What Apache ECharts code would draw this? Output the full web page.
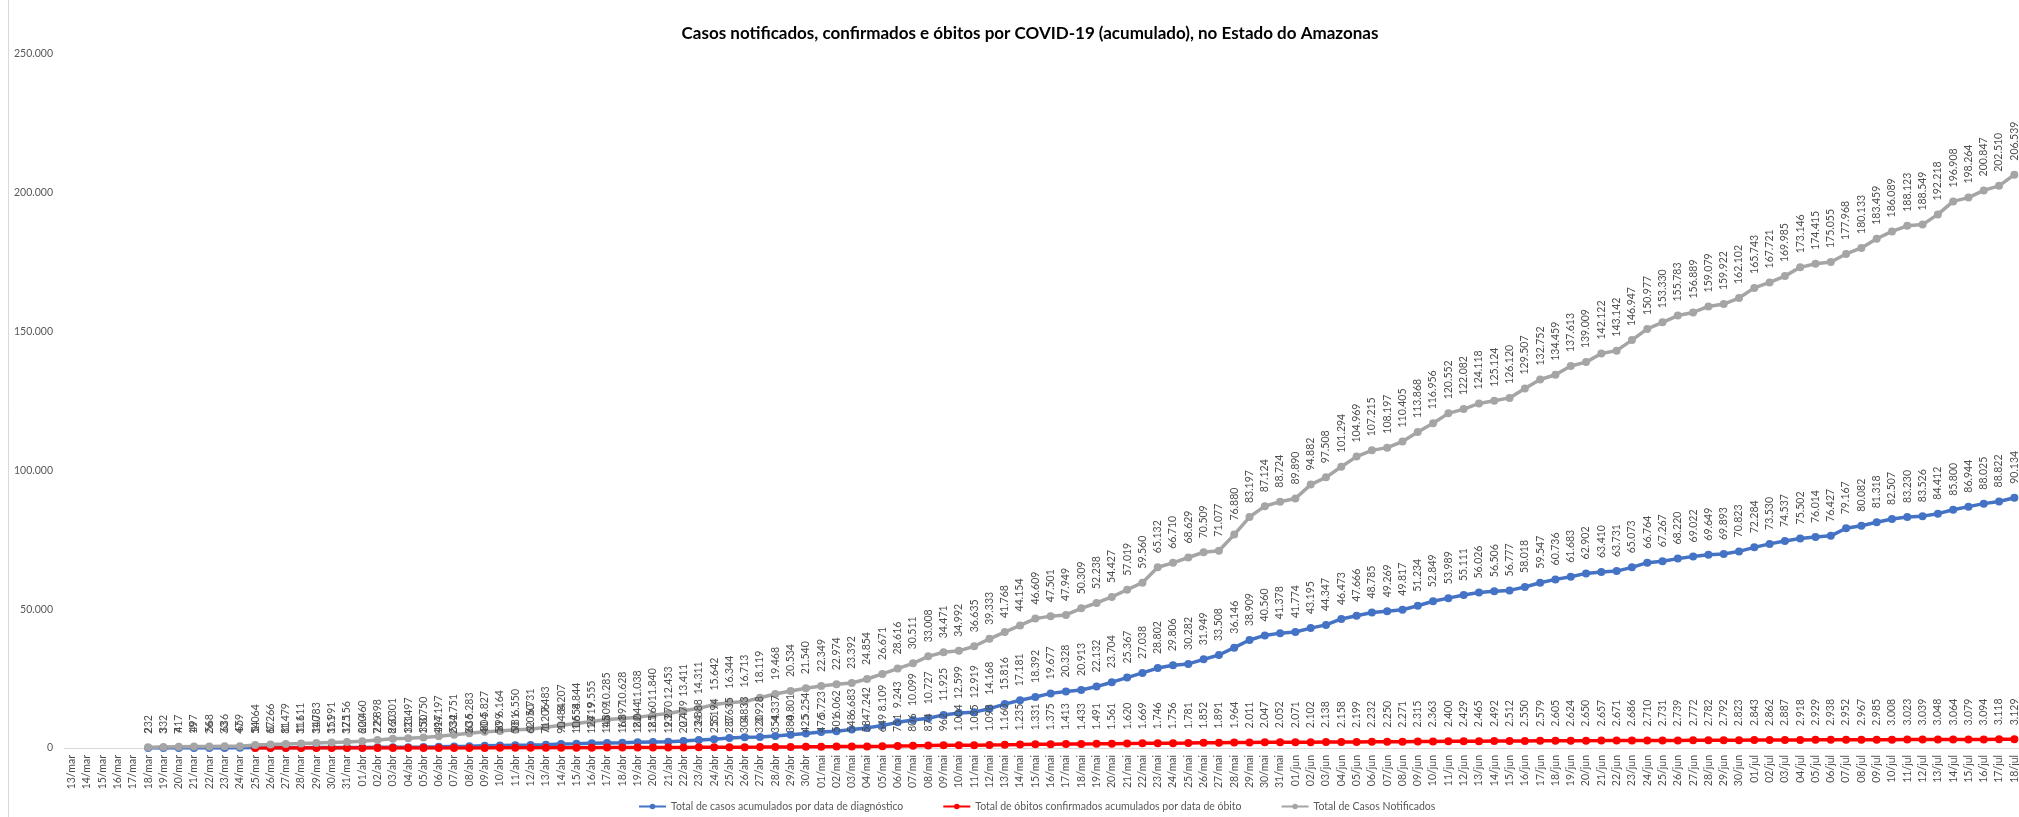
<!DOCTYPE html>
<html>
<head>
<meta charset="utf-8">
<script src="https://cdn.jsdelivr.net/npm/echarts@6/dist/echarts.min.js"></script>
<style>
html,body{margin:0;padding:0;background:#fff;}
#chart{width:2019px;height:817px;}
</style>
</head>
<body>
<div id="chart"></div>
<script>
const dates = [
'13/mar','14/mar','15/mar','16/mar','17/mar','18/mar','19/mar','20/mar','21/mar','22/mar','23/mar','24/mar','25/mar','26/mar','27/mar','28/mar','29/mar','30/mar','31/mar',
'01/abr','02/abr','03/abr','04/abr','05/abr','06/abr','07/abr','08/abr','09/abr','10/abr','11/abr','12/abr','13/abr','14/abr','15/abr','16/abr','17/abr','18/abr','19/abr','20/abr','21/abr','22/abr','23/abr','24/abr','25/abr','26/abr','27/abr','28/abr','29/abr','30/abr',
'01/mai','02/mai','03/mai','04/mai','05/mai','06/mai','07/mai','08/mai','09/mai','10/mai','11/mai','12/mai','13/mai','14/mai','15/mai','16/mai','17/mai','18/mai','19/mai','20/mai','21/mai','22/mai','23/mai','24/mai','25/mai','26/mai','27/mai','28/mai','29/mai','30/mai','31/mai',
'01/jun','02/jun','03/jun','04/jun','05/jun','06/jun','07/jun','08/jun','09/jun','10/jun','11/jun','12/jun','13/jun','14/jun','15/jun','16/jun','17/jun','18/jun','19/jun','20/jun','21/jun','22/jun','23/jun','24/jun','25/jun','26/jun','27/jun','28/jun','29/jun','30/jun',
'01/jul','02/jul','03/jul','04/jul','05/jul','06/jul','07/jul','08/jul','09/jul','10/jul','11/jul','12/jul','13/jul','14/jul','15/jul','16/jul','17/jul','18/jul'
];

const casosDiagnostico = [
null,null,null,null,null,2,3,7,19,26,33,47,54,67,81,111,140,151,175,
200,229,260,311,350,417,532,636,804,899,981,1050,1206,1484,1554,1719,1809,1897,2044,2160,2270,2479,2888,3194,3635,3833,3928,4337,4801,5254,
5723,6062,6683,7242,8109,9243,10099,10727,11925,12599,12919,14168,15816,17181,18392,19677,20328,20913,22132,23704,25367,27038,28802,29806,30282,31949,33508,36146,38909,40560,41378,
41774,43195,44347,46473,47666,48785,49269,49817,51234,52849,53989,55111,56026,56506,56777,58018,59547,60736,61683,62902,63410,63731,65073,66764,67267,68220,69022,69649,69893,70823,
72284,73530,74537,75502,76014,76427,79167,80082,81318,82507,83230,83526,84412,85800,86944,88025,88822,90134
];

const obitos = [
null,null,null,null,null,null,null,null,null,null,null,null,1,1,1,3,3,3,3,
6,7,8,12,15,19,23,30,40,50,53,62,71,90,106,124,145,161,182,185,193,207,234,255,287,304,320,354,380,425,
476,501,548,584,649,751,806,874,962,1004,1035,1098,1160,1235,1331,1375,1413,1433,1491,1561,1620,1669,1746,1756,1781,1852,1891,1964,2011,2047,2052,
2071,2102,2138,2158,2199,2232,2250,2271,2315,2363,2400,2429,2465,2492,2512,2550,2579,2605,2624,2650,2657,2671,2686,2710,2731,2739,2772,2782,2792,2823,
2843,2862,2887,2918,2929,2938,2952,2967,2985,3008,3023,3039,3048,3064,3079,3094,3118,3129
];

const casosNotificados = [
null,null,null,null,null,232,332,417,497,568,636,659,1064,1266,1479,1611,1783,1991,2156,
2460,2898,3301,3497,3750,4197,4751,5283,5827,6164,6550,6731,7483,8207,8844,9555,10285,10628,11038,11840,12453,13411,14311,15642,16344,16713,18119,19468,20534,21540,
22349,22974,23392,24854,26671,28616,30511,33008,34471,34992,36635,39333,41768,44154,46609,47501,47949,50309,52238,54427,57019,59560,65132,66710,68629,70509,71077,76880,83197,87124,88724,
89890,94882,97508,101294,104969,107215,108197,110405,113868,116956,120552,122082,124118,125124,126120,129507,132752,134459,137613,139009,142122,143142,146947,150977,153330,155783,156889,159079,159922,162102,
165743,167721,169985,173146,174415,175055,177968,180133,183459,186089,188123,188549,192218,196908,198264,200847,202510,206539
];

const yTicks = [0, 50000, 100000, 150000, 200000, 250000];

function fmt(v) {
  return String(v).replace(/\B(?=(\d{3})+(?!\d))/g, '.');
}

const FONT = 'Lato, "Open Sans", sans-serif';
const labelCfg = {
  show: true,
  position: 'top',
  rotate: 90,
  align: 'left',
  verticalAlign: 'middle',
  distance: 10,
  fontFamily: FONT,
  fontSize: 10.5,
  color: '#4d4d4d',
  formatter: p => (p.value == null ? '' : fmt(p.value))
};

function mkSeries(name, data, color) {
  return {
    name: name,
    type: 'line',
    data: data,
    symbol: 'circle',
    symbolSize: 8,
    connectNulls: false,
    lineStyle: { color: color, width: 3.5 },
    itemStyle: { color: color },
    label: labelCfg,
    emphasis: { disabled: true },
    animation: false
  };
}

const chart = echarts.init(document.getElementById('chart'), null, { renderer: 'canvas' });
chart.setOption({
  backgroundColor: '#ffffff',
  animation: false,
  title: {
    text: 'Casos notificados, confirmados e óbitos por COVID-19 (acumulado), no Estado do Amazonas',
    left: 1025,
    textAlign: 'center',
    top: 20,
    textStyle: { fontFamily: FONT, fontSize: 17, fontWeight: 'bold', color: '#000000' }
  },
  legend: {
    left: 633,
    top: 796,
    itemWidth: 27,
    itemHeight: 7,
    itemGap: 39,
    textStyle: { fontFamily: FONT, fontSize: 10.5, color: '#595959' },
    data: [
      'Total de casos acumulados por data de diagnóstico',
      'Total de óbitos confirmados acumulados por data de óbito',
      'Total de Casos Notificados'
    ]
  },
  grid: {
    left: 64,
    top: 54,
    width: 1958,
    height: 694,
    containLabel: false,
    outerBoundsMode: 'none'
  },
  xAxis: {
    type: 'category',
    data: dates,
    boundaryGap: true,
    axisLine: { show: true, lineStyle: { color: '#D9D9D9', width: 1 } },
    axisTick: { show: false },
    axisLabel: {
      interval: 0,
      rotate: 90,
      margin: 7,
      fontFamily: FONT,
      fontSize: 10.5,
      color: '#4d4d4d'
    },
    splitLine: { show: false }
  },
  yAxis: {
    type: 'value',
    min: yTicks[0],
    max: yTicks[yTicks.length - 1],
    interval: yTicks[1] - yTicks[0],
    axisLine: { show: false },
    axisTick: { show: false },
    splitLine: { show: false },
    axisLabel: {
      margin: 11,
      fontFamily: FONT,
      fontSize: 10.5,
      color: '#595959',
      formatter: v => fmt(v)
    }
  },
  graphic: [
    { type: 'line', shape: { x1: 8.5, y1: 0, x2: 8.5, y2: 817 }, style: { stroke: '#D9D9D9', lineWidth: 1 } }
  ],
  series: [
    mkSeries('Total de casos acumulados por data de diagnóstico', casosDiagnostico, '#4472C4'),
    mkSeries('Total de óbitos confirmados acumulados por data de óbito', obitos, '#FF0000'),
    mkSeries('Total de Casos Notificados', casosNotificados, '#A5A5A5')
  ]
});
</script>
</body>
</html>
